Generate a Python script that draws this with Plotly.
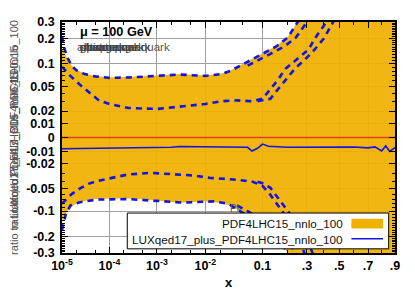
import numpy as np
import plotly.graph_objects as go

# ---------------- data ----------------
x_ticks = [1e-5, 1e-4, 1e-3, 1e-2, 0.1, 0.3, 0.5, 0.7, 0.9]
x_ticklabels = ["10<sup>-5</sup>", "10<sup>-4</sup>", "10<sup>-3</sup>", "10<sup>-2</sup>",
                "0.1", ".3", ".5", ".7", ".9"]
x_minor = [2e-5, 5e-5, 2e-4, 5e-4, 2e-3, 5e-3, 0.02, 0.05, 0.2, 0.4, 0.6, 0.8]

y_ticks = [-0.3, -0.2, -0.1, -0.05, -0.02, -0.01, 0, 0.01, 0.02, 0.05, 0.1, 0.2, 0.3]
y_ticklabels = ["-0.3", "-0.2", "-0.1", "-0.05", "-0.02", "-0.01", "0",
                "0.01", "0.02", "0.05", "0.1", "0.2", "0.3"]
y_minor_pos = [0.03, 0.04, 0.06, 0.07, 0.08, 0.09, 0.11, 0.12, 0.13, 0.14, 0.15, 0.16,
               0.17, 0.18, 0.19, 0.21, 0.22, 0.23, 0.24, 0.25, 0.26, 0.27, 0.28, 0.29]

# PDF4LHC15 uncertainty band (ratio - 1)
band_up_x = [1e-5, 1.3e-5, 1.6e-5, 2e-5, 3e-5, 5e-5, 1e-4, 3e-4, 1e-3, 3e-3, 1e-2, 2e-2,
             3e-2, 5e-2, 7e-2, 0.1, 0.15, 0.2, 0.25, 0.3, 0.4, 0.5, 0.7, 0.9]
band_up_y = [0.155, 0.115, 0.095, 0.085, 0.075, 0.07, 0.067, 0.068, 0.071, 0.074, 0.071, 0.075,
             0.082, 0.1, 0.115, 0.136, 0.166, 0.208, 0.3, 0.42, 0.7, 1.0, 1.5, 2.0]
band_dn_x = [1e-5, 1.3e-5, 1.6e-5, 2e-5, 3e-5, 5e-5, 1e-4, 3e-4, 1e-3, 3e-3, 1e-2, 2e-2,
             3e-2, 4.5e-2, 7e-2, 0.1, 0.15, 0.2, 0.25, 0.3, 0.4, 0.5, 0.7, 0.9]
band_dn_y = [-0.13, -0.1, -0.088, -0.08, -0.074, -0.07, -0.069, -0.069, -0.073, -0.078, -0.075, -0.079,
             -0.085, -0.1, -0.125, -0.15, -0.2, -0.3, -0.45, -0.6, -0.8, -1.0, -1.5, -2.0]

# PDF4LHC15 central (reference)
ref_x = [1e-5, 0.9]
ref_y = [0.0, 0.0]

# LUXqed17 central
lux_x = [1e-5, 3e-5, 1e-4, 3e-4, 1e-3, 2e-3, 3e-3, 1e-2, 2e-2, 4e-2, 6e-2, 0.07, 0.085, 0.1,
         0.12, 0.2, 0.3, 0.5, 0.6, 0.7, 0.75, 0.8, 0.83, 0.86, 0.9]
lux_y = [-0.0078, -0.0076, -0.0072, -0.007, -0.0066, -0.0068, -0.0062, -0.0063, -0.0065, -0.0066,
         -0.0068, -0.0095, -0.0075, -0.0045, -0.006, -0.0068, -0.0068, -0.007, -0.0066, -0.0072,
         -0.0065, -0.0095, -0.0058, -0.0098, -0.007]

# LUXqed17 uncertainty edges (dashed)
lux_up_outer_x = [1e-5, 1.1e-5, 1.3e-5, 1.6e-5, 2e-5, 3e-5, 5e-5, 1e-4, 3e-4, 1e-3, 3e-3, 1e-2,
                  2e-2, 3e-2, 5e-2, 7e-2, 0.1, 0.15, 0.2, 0.25, 0.3]
lux_up_outer_y = [0.21, 0.16, 0.12, 0.095, 0.083, 0.074, 0.069, 0.066, 0.067, 0.07, 0.073, 0.07,
                  0.074, 0.081, 0.098, 0.113, 0.133, 0.163, 0.205, 0.3, 0.42]
lux_up_outer2_x = [0.06, 0.075, 0.092, 0.127, 0.185, 0.24, 0.3, 0.35]
lux_up_outer2_y = [0.095, 0.105, 0.113, 0.133, 0.163, 0.205, 0.3, 0.42]
lux_up_inner_x = [1e-5, 1.5e-5, 2.4e-5, 4e-5, 6e-5, 1e-4, 2.5e-4, 1e-3, 3e-3, 1e-2, 2e-2, 4e-2,
                  7e-2, 0.1, 0.125, 0.155, 0.19, 0.245, 0.31, 0.345, 0.41, 0.45]
lux_up_inner_y = [0.092, 0.07, 0.053, 0.04, 0.031, 0.027, 0.023, 0.022, 0.024, 0.027, 0.03, 0.031,
                  0.03, 0.033, 0.045, 0.061, 0.087, 0.114, 0.15, 0.2, 0.29, 0.4]
lux_up_inner2_x = [0.085, 0.1, 0.127, 0.155, 0.187, 0.235, 0.29, 0.345, 0.4, 0.455, 0.5]
lux_up_inner2_y = [0.03, 0.031, 0.033, 0.045, 0.061, 0.087, 0.114, 0.15, 0.2, 0.29, 0.4]
lux_dn_outer_x = [1e-5, 1.2e-5, 1.5e-5, 2.4e-5, 5.5e-5, 2.4e-4, 1e-3, 3.6e-3, 1.45e-2, 2.7e-2,
                  4.5e-2, 7e-2, 0.1, 0.15, 0.2]
lux_dn_outer_y = [-0.17, -0.11, -0.085, -0.077, -0.071, -0.07, -0.074, -0.078, -0.075, -0.08,
                  -0.1, -0.125, -0.15, -0.2, -0.3]
lux_dn_outer2_x = [0.04, 0.06, 0.09, 0.125, 0.185, 0.24]
lux_dn_outer2_y = [-0.085, -0.1, -0.125, -0.15, -0.2, -0.3]
lux_dn_inner_x = [1e-5, 1.6e-5, 2.4e-5, 3.6e-5, 5.5e-5, 1.2e-4, 2.4e-4, 7.2e-4, 2.7e-3, 5.8e-3,
                  1.25e-2, 3.5e-2, 7.2e-2, 0.1, 0.125, 0.16, 0.19, 0.22, 0.26, 0.3]
lux_dn_inner_y = [-0.08, -0.06, -0.05, -0.043, -0.039, -0.035, -0.031, -0.029, -0.031, -0.032,
                  -0.035, -0.037, -0.04, -0.046, -0.06, -0.087, -0.115, -0.15, -0.22, -0.35]
lux_dn_inner2_x = [0.085, 0.1, 0.127, 0.145, 0.185, 0.22, 0.255, 0.3, 0.35]
lux_dn_inner2_y = [-0.04, -0.042, -0.049, -0.06, -0.087, -0.115, -0.15, -0.22, -0.35]

flavour_labels = ["photon", "gluon", "up quark", "down quark", "charm quark", "strange quark"]
flavour_long_label = "anti-strange quark"
ylabel_texts = ["ratio to LUXqed17_plus_PDF4LHC15_nnlo_100", "ratio to PDF4LHC15_nnlo_100",
                "ratio to LUXqed17_plus_PDF4LHC15"]


# ---------------- axis transforms (gnuplot-like nonlinear axes) ----------------
def tx(x):
    x = np.asarray(x, dtype=float)
    return np.log10(x) + 2.3 * x


def ty(y):
    y = np.asarray(y, dtype=float)
    return 1.235 * y + np.arcsinh(y / 0.022)


y_minor = sorted(y_minor_pos + [-v for v in y_minor_pos])

FONT = "Liberation Sans, Arial, Helvetica, sans-serif"
ORANGE = "rgba(240,176,0,0.93)"
BLUE = "#1414e0"

fig = go.Figure()

# band as a closed polygon
bx = list(tx(band_up_x)) + list(tx(band_dn_x))[::-1]
by = list(ty(band_up_y)) + list(ty(band_dn_y))[::-1]
fig.add_trace(go.Scatter(x=bx, y=by, mode="lines", fill="toself", fillcolor=ORANGE,
                         line=dict(width=0), hoverinfo="skip"))
fig.add_trace(go.Scatter(x=tx(ref_x), y=ty(ref_y), mode="lines",
                         line=dict(color="#e0401a", width=1.5)))
for xs, ys in [(lux_up_outer_x, lux_up_outer_y), (lux_up_outer2_x, lux_up_outer2_y),
               (lux_up_inner_x, lux_up_inner_y), (lux_up_inner2_x, lux_up_inner2_y),
               (lux_dn_outer_x, lux_dn_outer_y), (lux_dn_outer2_x, lux_dn_outer2_y),
               (lux_dn_inner_x, lux_dn_inner_y), (lux_dn_inner2_x, lux_dn_inner2_y)]:
    fig.add_trace(go.Scatter(x=tx(xs), y=ty(ys), mode="lines",
                             line=dict(color=BLUE, width=2.6, dash="6px,5px")))
fig.add_trace(go.Scatter(x=tx(lux_x), y=ty(lux_y), mode="lines",
                         line=dict(color=BLUE, width=1.6)))

axis_common = dict(showline=True, linecolor="black", linewidth=1.6, mirror="allticks",
                   ticks="inside", ticklen=6, tickwidth=1, tickcolor="black",
                   showgrid=True, gridcolor="#a0a0a0", gridwidth=1, zeroline=False,
                   tickfont=dict(family=FONT, size=12.5, color="black", weight="bold"))

# the page adds an 8px body margin, so the figure is 8px smaller than the window
fig.update_layout(
    width=407, height=283,
    margin=dict(l=54, r=20, t=7, b=38),
    paper_bgcolor="white", plot_bgcolor="white",
    showlegend=False,
    xaxis=dict(axis_common, range=[float(tx(1e-5)), float(tx(0.9))],
               tickmode="array", tickvals=list(tx(x_ticks)), ticktext=x_ticklabels,
               minor=dict(tickvals=list(tx(x_minor)), ticks="inside", ticklen=3,
                          tickcolor="black", showgrid=False)),
    yaxis=dict(axis_common, range=[float(ty(-0.3)), float(ty(0.3))],
               tickmode="array", tickvals=list(ty(y_ticks)), ticktext=y_ticklabels,
               ticklabelstandoff=3,
               minor=dict(tickvals=list(ty(y_minor)), ticks="inside", ticklen=3,
                          tickcolor="black", showgrid=False)),
)

# legend drawn gnuplot-style (text right, sample on the right)
shapes = [
    dict(type="rect", xref="paper", yref="paper", x0=0.196, x1=0.981, y0=0.018, y1=0.173,
         fillcolor="white", line=dict(color="black", width=1), layer="above"),
    dict(type="rect", xref="paper", yref="paper", x0=0.869, x1=0.964, y0=0.106, y1=0.148,
         fillcolor="rgb(240,178,0)", line=dict(width=0), layer="above"),
    dict(type="line", xref="paper", yref="paper", x0=0.869, x1=0.964, y0=0.062, y1=0.062,
         line=dict(color=BLUE, width=1.6), layer="above"),
]
fig.update_layout(shapes=shapes)

ann = []
ann.append(dict(text="PDF4LHC15_nnlo_100", xref="paper", yref="paper", x=0.849, y=0.127,
                xanchor="right", yanchor="middle", showarrow=False,
                font=dict(family=FONT, size=11.7, color="#111")))
ann.append(dict(text="LUXqed17_plus_PDF4LHC15_nnlo_100", xref="paper", yref="paper", x=0.849,
                y=0.060, xanchor="right", yanchor="middle", showarrow=False,
                font=dict(family=FONT, size=11.7, color="#111")))
ann.append(dict(text="μ = 100 GeV", xref="paper", yref="paper", x=0.048, y=0.958,
                xanchor="left", yanchor="middle", showarrow=False,
                font=dict(family=FONT, size=12.7, color="black", weight="bold")))
ann.append(dict(text=flavour_long_label, xref="paper", yref="paper", x=0.33, y=0.893,
                xanchor="right", yanchor="middle", showarrow=False,
                font=dict(family=FONT, size=11.5, color="#555")))
for t in flavour_labels:
    ann.append(dict(text=t, xref="paper", yref="paper", x=0.048, y=0.893,
                    xanchor="left", yanchor="middle", showarrow=False,
                    font=dict(family=FONT, size=11.5, color="#444")))
for t in ylabel_texts:
    ann.append(dict(text=t, xref="paper", yref="paper", x=-0.146, y=0.5, textangle=-90,
                    xanchor="center", yanchor="middle", showarrow=False,
                    font=dict(family=FONT, size=11, color="#555")))
ann.append(dict(text="x", xref="paper", yref="paper", x=0.5, y=-0.126,
                xanchor="center", yanchor="middle", showarrow=False,
                font=dict(family=FONT, size=13, color="black", weight="bold")))
ann.append(dict(text="Pl", xref="paper", yref="paper", x=0.497, y=0.193,
                xanchor="left", yanchor="middle", showarrow=False,
                font=dict(family=FONT, size=10, color="#555")))
fig.update_layout(annotations=ann)

fig.write_html("out.html")
